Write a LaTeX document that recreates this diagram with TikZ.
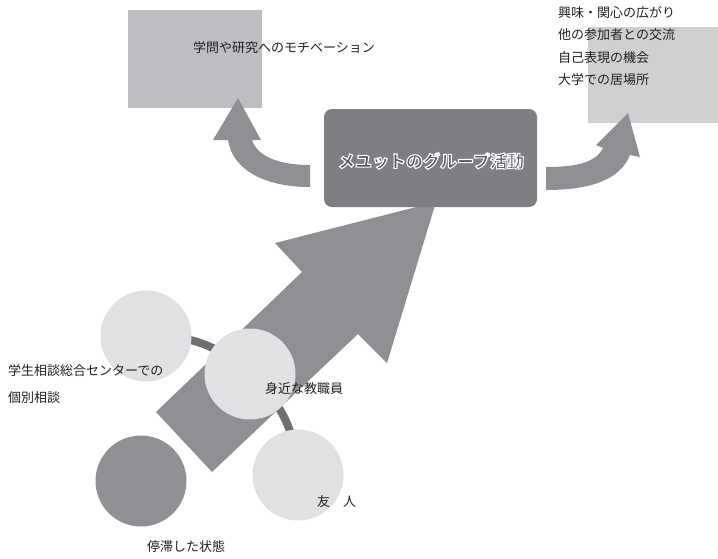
\documentclass[tikz,border=0pt]{standalone}
\usepackage{fontspec}
\setmainfont{Noto Sans CJK JP}
\usetikzlibrary{positioning}
\definecolor{boxL}{HTML}{BDBEC1}
\definecolor{boxR}{HTML}{CECFD1}
\definecolor{arrg}{HTML}{8E8F93}
\definecolor{mainbox}{HTML}{7E7F83}
\definecolor{lightc}{HTML}{E0E1E3}
\definecolor{darkc}{HTML}{8F9094}
\definecolor{connc}{HTML}{6E6F73}
\definecolor{mtext}{HTML}{55565A}
\definecolor{lbl}{HTML}{231F20}
\pgfdeclarelayer{bg}
\pgfdeclarelayer{mid}
\pgfsetlayers{bg,mid,main}
\tikzset{
  lbltxt/.style={inner sep=0pt, text=lbl, font=\fontsize{13}{15}\selectfont},
  orb/.style={circle, inner sep=0pt, minimum size=91pt, draw=none},
  arrshape/.style={fill=arrg, draw=none},
  conn/.style={draw=connc, line width=8pt},
  topbox/.style={inner sep=0pt, draw=none},
}
\begin{document}
\begin{tikzpicture}[x=1pt,y=-1pt]
\useasboundingbox (0,0) rectangle (718,558);
% top boxes
\node[topbox, fill=boxL, minimum width=134pt, minimum height=98pt] (boxl) at (195,59) {};
\node[topbox, fill=boxR, minimum width=130pt, minimum height=96pt] (boxr) at (653,75) {};
% big arrow
\begin{pgfonlayer}{bg}
\fill[arrshape] (156,412) -- (302,272) -- (275,243) -- (436,202) -- (387,363) -- (358,334) -- (212,472) -- cycle;
\end{pgfonlayer}
% main box
\node[fill=mainbox, rounded corners=8pt, minimum width=213pt, minimum height=98pt, inner sep=0pt] (main) at (430.5,158) {};
\node[inner sep=0pt, text=mtext, font=\fontsize{17}{20}\selectfont\bfseries] (maintxt) at (431,161)
  {\special{pdf:literal direct 2 Tr 1 1 1 RG 1.1 w}メユットのグループ活動\special{pdf:literal direct 0 Tr}};
% curved arrows
\fill[arrshape] (310,165) .. controls (282,165) and (258,158) .. (252,140) -- (261,140) -- (238,98) -- (213,140) -- (228,140) .. controls (232,168) and (262,187) .. (310,187) -- cycle;
\fill[arrshape] (546,167) .. controls (578,167) and (596,162) .. (603,148) -- (596,145) -- (628,113) -- (640,157) -- (630,155) .. controls (620,180) and (590,190) .. (546,190) -- cycle;
% circles
\node[orb, fill=lightc] (c1) at (146,336) {};
\node[orb, fill=lightc] (c2) at (250,374) {};
\node[orb, fill=lightc] (c3) at (298,475) {};
\node[orb, fill=darkc] (c4) at (141,481) {};
\begin{pgfonlayer}{mid}
\draw[conn] (c1.center) to[bend left=22] (c2.center);
\draw[conn] (c2.center) to[bend left=22] (c3.center);
\end{pgfonlayer}
% labels
\node[lbltxt, anchor=west] (tl) at (193,48) {学問や研究へのモチベーション};
\node[lbltxt, anchor=west] (r1) at (558,13) {興味・関心の広がり};
\node[lbltxt, anchor=west] (r2) at (558,35) {他の参加者との交流};
\node[lbltxt, anchor=west] (r3) at (558,58) {自己表現の機会};
\node[lbltxt, anchor=west] (r4) at (558,80) {大学での居場所};
\node[lbltxt, anchor=west] (s1) at (8,371) {学生相談総合センターでの};
\node[lbltxt, anchor=west] (s2) at (8,398) {個別相談};
\node[lbltxt, anchor=west] (t2) at (265,389) {身近な教職員};
\node[lbltxt, anchor=west] (t3) at (317,502) {友　人};
\node[lbltxt] (t4) at (186,547) {停滞した状態};
\end{tikzpicture}
\end{document}
